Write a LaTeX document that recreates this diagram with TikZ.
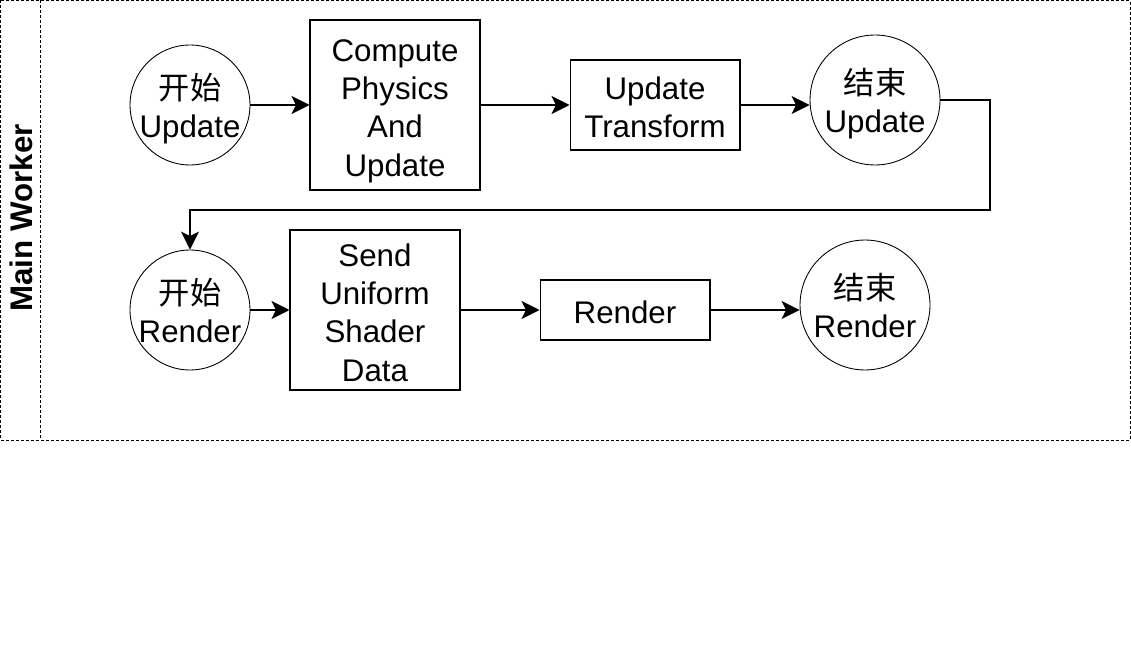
\documentclass[tikz,border=0pt]{standalone}
\usepackage{fontspec}
\setmainfont{Liberation Sans}
\newfontfamily\cjk{Noto Sans CJK SC}
\usetikzlibrary{arrows.meta}
\newcommand{\stacktext}[1]{\raisebox{-0.27cm}[0pt][0pt]{\begin{tabular}{@{}c@{}}#1\end{tabular}}}
\tikzset{block/.style = {draw, fill=white, line width=0.6pt, rectangle, inner sep=0pt, minimum width=3.4cm},
         event/.style = {draw, fill=white, line width=0.5pt, circle, inner sep=0pt},
         lane/.style  = {draw, line width=0.5pt, dash pattern=on 0.06cm off 0.04cm},
         flow/.style  = {line width=0.6pt, -{Stealth[length=0.36cm, width=0.36cm, inset=0.09cm]}}}

\begin{document}
\begin{tikzpicture}[x=0.02cm, y=-0.02cm, font=\fontsize{17.8}{21.8}\selectfont]
    \useasboundingbox(0,0)rectangle(1131,665);
    \draw[lane](0.5,0.5)rectangle(1130,440);
    \draw[lane](40,0.5)--(40,440);
    \node[rotate=90, font=\fontsize{17.8}{21.8}\selectfont\bfseries](lbl)at(21,218){Main Worker};
    % update row
    \node[event, minimum size=2.4cm](u0)at(190,105){\stacktext{{\cjk 开始}\\Update}};
    \node[block, minimum height=3.4cm](u1)at(395,105){\stacktext{Compute\\Physics\\And\\Update}};
    \node[block, minimum height=1.8cm](u2)at(655,105){\stacktext{Update\\Transform}};
    \node[event, minimum size=2.6cm](u3)at(875,100){\stacktext{{\cjk 结束}\\Update}};
    \draw[flow](u0.east)--(u1.west);
    \draw[flow](u1.east)--(u2.west);
    \draw[flow](u2.east)--(u2.east-|u3.west);
    % render row
    \node[event, minimum size=2.4cm](r0)at(190,310){\stacktext{{\cjk 开始}\\Render}};
    \node[block, minimum height=3.2cm](r1)at(375,310){\stacktext{Send\\Uniform\\Shader\\Data}};
    \node[block, minimum height=1.2cm](r2)at(625,310){\stacktext{Render}};
    \node[event, minimum size=2.6cm](r3)at(865,305){\stacktext{{\cjk 结束}\\Render}};
    \draw[flow](r0.east)--(r1.west);
    \draw[flow](r1.east)--(r2.west);
    \draw[flow](r2.east)--(r2.east-|r3.west);
    % back to render
    \coordinate(k1)at(990,210);
    \draw[flow](u3.east)-|(k1)-|(r0.north);
\end{tikzpicture}
\end{document}
